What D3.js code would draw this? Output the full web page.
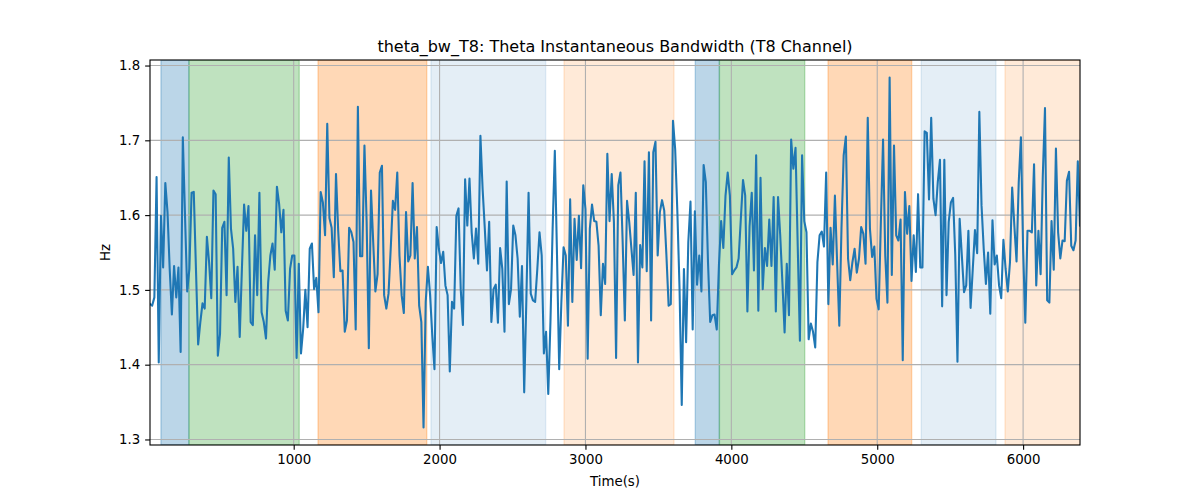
<!DOCTYPE html>
<html>
<head>
<meta charset="utf-8">
<script src="https://cdn.jsdelivr.net/npm/d3@7"></script>
<style>
  html, body { margin: 0; padding: 0; background: #ffffff; }
  svg { display: block; font-family: "DejaVu Sans", sans-serif; }
</style>
</head>
<body>
<svg id="chart" width="1200" height="500"></svg>
<script>
// ---------------- data ----------------
const title = "theta_bw_T8: Theta Instantaneous Bandwidth (T8 Channel)";
const xLabel = "Time(s)";
const yLabel = "Hz";

// sampling of the series (seconds)
const startTime = 15;
const sampleStep = 15;

// theta bandwidth (Hz), one value per sample
const bandwidth = [
  1.481,1.479,1.490,1.651,1.403,1.599,1.530,1.643,1.604,1.528,1.467,1.532,1.490,1.530,1.417,1.704,1.599,1.498,1.528,1.630,
  1.631,1.528,1.427,1.457,1.482,1.475,1.571,1.537,1.489,1.633,1.628,1.412,1.441,1.583,1.591,1.493,1.677,1.582,1.555,1.484,
  1.531,1.437,1.528,1.614,1.579,1.612,1.457,1.453,1.573,1.493,1.630,1.470,1.457,1.435,1.510,1.546,1.562,1.527,1.638,1.615,
  1.577,1.607,1.472,1.459,1.528,1.546,1.546,1.409,1.535,1.415,
  1.448,1.500,1.450,1.555,1.562,1.501,1.516,1.470,1.631,1.617,1.573,1.722,1.596,1.583,1.517,1.655,1.579,1.525,1.526,1.444,
  1.459,1.583,1.577,1.564,1.447,1.745,1.545,1.545,1.693,1.591,1.422,1.633,1.564,1.498,1.521,1.657,1.666,1.493,1.475,1.495,
  1.555,1.619,1.607,1.657,1.546,1.493,1.469,1.604,1.538,1.546,1.643,1.542,1.584,1.479,1.457,1.316,1.484,1.531,1.493,1.439,
  1.394,1.584,1.555,1.536,1.551,1.506,1.493,1.391,1.484,1.475,1.599,
  1.609,1.501,1.453,1.648,1.586,1.649,1.577,1.542,1.582,1.535,1.706,1.635,1.582,1.526,1.591,1.457,1.501,1.507,1.456,1.556,
  1.528,1.444,1.645,1.481,1.501,1.586,1.573,1.542,1.464,1.532,1.363,1.488,1.630,1.495,1.486,1.484,1.528,1.577,1.546,1.415,
  1.444,1.361,1.457,1.582,1.686,1.546,1.394,1.484,1.557,1.546,1.452,1.621,1.484,1.595,1.540,1.599,1.529,1.640,1.608,1.408,
  1.582,1.614,1.592,1.591,1.559,1.466,1.535,1.508,1.682,1.592,1.655,
  1.591,1.409,1.640,1.657,1.564,1.459,1.619,1.591,1.555,1.520,1.630,1.403,1.560,1.530,1.672,1.525,1.684,1.459,1.684,1.698,
  1.546,1.604,1.620,1.606,1.546,1.479,1.481,1.726,1.688,1.604,1.501,1.346,1.528,1.430,1.564,1.618,1.447,1.605,1.507,1.546,
  1.498,1.667,1.644,1.537,1.457,1.466,1.467,1.447,1.533,1.592,1.556,1.626,1.657,1.626,1.521,1.526,1.530,1.542,1.595,1.647,
  1.626,1.471,1.585,1.630,1.526,1.680,1.472,1.650,1.501,1.556,1.532,
  1.594,1.532,1.624,1.471,1.624,1.573,1.510,1.443,1.535,1.466,1.701,1.662,1.690,1.559,1.432,1.680,1.592,1.577,1.434,1.455,
  1.444,1.423,1.537,1.573,1.578,1.558,1.657,1.481,1.583,1.534,1.626,1.537,1.452,1.582,1.680,1.705,1.542,1.513,1.537,1.555,
  1.523,1.542,1.584,1.575,1.535,1.730,1.582,1.544,1.558,1.488,1.474,1.591,1.701,1.546,1.483,1.784,1.520,1.693,1.573,1.566,
  1.594,1.406,1.631,1.575,1.612,1.512,1.573,1.524,1.628,1.530,1.530,1.712,
  1.710,1.621,1.730,1.622,1.600,1.644,1.674,1.478,1.674,1.493,1.591,1.617,1.623,1.546,1.404,1.595,1.546,1.497,1.506,1.579,
  1.476,1.528,1.580,1.549,1.738,1.613,1.555,1.508,1.550,1.468,1.593,1.534,1.546,1.506,1.489,1.567,1.528,1.498,1.537,1.637,
  1.586,1.538,1.644,1.704,1.555,1.456,1.579,1.579,1.577,1.668,1.506,1.579,1.521,1.653,1.743,1.486,1.483,1.592,1.527,1.689,
  1.577,1.542,1.566,1.565,1.646,1.658,1.559,1.553,1.566,1.672,1.586
];

// shaded phases
const bandStart = [90, 282, 1167, 1941, 2853, 3753, 3918, 4663, 5302, 5876];
const bandEnd   = [282, 1038, 1912, 2727, 3607, 3918, 4503, 5236, 5814, 6420];
const bandColor = ["#1f77b4","#2ca02c","#ff7f0e","#1f77b4","#ff7f0e","#1f77b4","#2ca02c","#ff7f0e","#1f77b4","#ff7f0e"];
const bandAlpha = [0.3, 0.3, 0.3, 0.12, 0.16, 0.3, 0.3, 0.3, 0.12, 0.16];

const xTicks = [1000, 2000, 3000, 4000, 5000, 6000];
const yTicks = [1.3, 1.4, 1.5, 1.6, 1.7, 1.8];

// ---------------- drawing ----------------
const PT = 100 / 72; // matplotlib points -> px at dpi 100
const series = bandwidth.map((v, i) => ({ t: startTime + i * sampleStep, v: v }));
const bands = bandStart.map((s, i) => ({ s: s, e: bandEnd[i], c: bandColor[i], a: bandAlpha[i] }));

const margin = { left: 150, right: 120, top: 60, bottom: 55 };
const W = 1200, H = 500;
const iw = W - margin.left - margin.right;
const ih = H - margin.top - margin.bottom;

const svg = d3.select("#chart");
const g = svg.append("g").attr("transform", `translate(${margin.left},${margin.top})`);

const x = d3.scaleLinear().domain(d3.extent(series, d => d.t)).range([0, iw]);
const [vmin, vmax] = d3.extent(series, d => d.v);
const pad = (vmax - vmin) * 0.05;
const y = d3.scaleLinear().domain([vmin - pad, vmax + pad]).range([ih, 0]);

const defs = svg.append("defs");
defs.append("clipPath").attr("id", "clip")
  .append("rect").attr("x", 0).attr("y", 0).attr("width", iw).attr("height", ih);

const plot = g.append("g").attr("clip-path", "url(#clip)");

// bands
plot.selectAll("rect.band").data(bands).enter().append("rect")
  .attr("class", "band")
  .attr("x", d => x(d.s))
  .attr("y", 0)
  .attr("width", d => x(d.e) - x(d.s))
  .attr("height", ih)
  .attr("fill", d => d.c)
  .attr("fill-opacity", d => d.a)
  .attr("stroke", d => d.c)
  .attr("stroke-opacity", d => d.a)
  .attr("stroke-width", PT);

// grid
plot.selectAll("line.gx").data(xTicks).enter().append("line")
  .attr("x1", d => x(d)).attr("x2", d => x(d))
  .attr("y1", 0).attr("y2", ih)
  .attr("stroke", "#b0b0b0").attr("stroke-width", 0.8 * PT);
plot.selectAll("line.gy").data(yTicks).enter().append("line")
  .attr("x1", 0).attr("x2", iw)
  .attr("y1", d => y(d)).attr("y2", d => y(d))
  .attr("stroke", "#b0b0b0").attr("stroke-width", 0.8 * PT);

// line
const line = d3.line().x(d => x(d.t)).y(d => y(d.v));
plot.append("path").datum(series)
  .attr("d", line)
  .attr("fill", "none")
  .attr("stroke", "#1f77b4")
  .attr("stroke-width", 1.5 * PT)
  .attr("stroke-linejoin", "round")
  .attr("stroke-linecap", "square");

// axes
const xAxis = d3.axisBottom(x).tickValues(xTicks).tickFormat(d3.format("d")).tickSize(3.5 * PT).tickPadding(3.5 * PT);
const yAxis = d3.axisLeft(y).tickValues(yTicks).tickFormat(d3.format(".1f")).tickSize(3.5 * PT).tickPadding(3.5 * PT);

const gx = g.append("g").attr("transform", `translate(0,${ih})`).call(xAxis);
const gy = g.append("g").call(yAxis);
[gx, gy].forEach(a => {
  a.select(".domain").remove();
  a.selectAll(".tick line").attr("stroke", "#000").attr("stroke-width", 0.8 * PT);
  a.selectAll(".tick text").attr("fill", "#000").attr("font-size", "13.33px")
    .attr("font-family", "DejaVu Sans, sans-serif");
});

// frame
g.append("rect").attr("x", 0).attr("y", 0).attr("width", iw).attr("height", ih)
  .attr("fill", "none").attr("stroke", "#000").attr("stroke-width", 0.8 * PT);

// labels
svg.append("text").attr("x", margin.left + iw / 2).attr("y", 51.5)
  .attr("text-anchor", "middle").attr("font-size", "16px").attr("fill", "#000")
  .text(title);
svg.append("text").attr("x", margin.left + iw / 2).attr("y", 486)
  .attr("text-anchor", "middle").attr("font-size", "13.33px").attr("fill", "#000")
  .text(xLabel);
svg.append("text")
  .attr("transform", `translate(110,${margin.top + ih / 2}) rotate(-90)`)
  .attr("text-anchor", "middle").attr("font-size", "13.33px").attr("fill", "#000")
  .text(yLabel);
</script>
</body>
</html>
